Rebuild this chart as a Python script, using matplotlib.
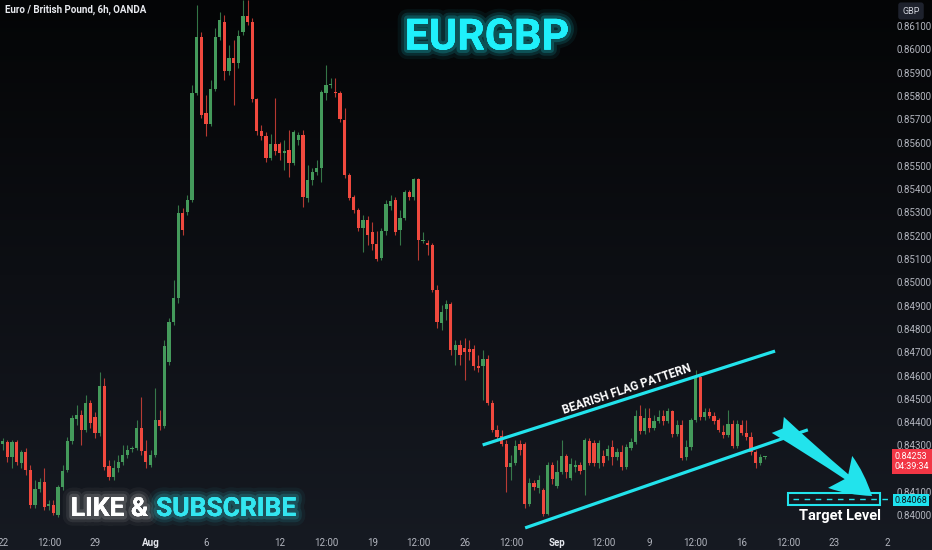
import numpy as np
import matplotlib
matplotlib.use("Agg")
from matplotlib import pyplot as plt
from matplotlib import patheffects as pe
from matplotlib.colors import LinearSegmentedColormap
from matplotlib.patches import Rectangle

plt.rcParams['font.family'] = ['Roboto', 'DejaVu Sans']

# EURGBP 6h candles, 22 Jul -> 17 Sep
opens = [0.84306, 0.84315, 0.84251, 0.84315, 0.84225, 0.84272, 0.84195, 0.84044, 0.84113, 0.84143,
         0.84040, 0.84044, 0.84002, 0.84122, 0.84195, 0.84319, 0.84414, 0.84431, 0.84367, 0.84482,
         0.84422, 0.84354, 0.84555, 0.84212, 0.84165, 0.84203, 0.84229, 0.84259, 0.84285, 0.84289,
         0.84375, 0.84276, 0.84216, 0.84259, 0.84409, 0.84384, 0.84658, 0.84830, 0.84933, 0.85298,
         0.85302, 0.85354, 0.85813, 0.86053, 0.85727, 0.85680, 0.85830, 0.86053, 0.86118, 0.85907,
         0.85963, 0.85942, 0.86075, 0.86143, 0.86118, 0.85787, 0.85650, 0.85628, 0.85534, 0.85594,
         0.85594, 0.85555, 0.85568, 0.85512, 0.85611, 0.85633, 0.85362, 0.85439, 0.85474, 0.85491,
         0.85813, 0.85849, 0.85815, 0.85813, 0.85697, 0.85461, 0.85367, 0.85311, 0.85233, 0.85268,
         0.85216, 0.85165, 0.85105, 0.85221, 0.85328, 0.85354, 0.85225, 0.85276, 0.85388, 0.85367,
         0.85444, 0.85178, 0.85169, 0.85160, 0.84967, 0.84826, 0.84886, 0.84907, 0.84710, 0.84731,
         0.84718, 0.84714, 0.84714, 0.84641, 0.84641, 0.84671, 0.84482, 0.84367, 0.84341, 0.84306,
         0.84208, 0.84225, 0.84306, 0.84306, 0.84049, 0.84139, 0.84118, 0.84109, 0.84006, 0.84216,
         0.84126, 0.84186, 0.84255, 0.84160, 0.84208, 0.84216, 0.84195, 0.84319, 0.84311, 0.84225,
         0.84255, 0.84255, 0.84294, 0.84251, 0.84272, 0.84208, 0.84289, 0.84315, 0.84427, 0.84362,
         0.84418, 0.84375, 0.84405, 0.84427, 0.84405, 0.84448, 0.84349, 0.84388, 0.84251, 0.84294,
         0.84409, 0.84594, 0.84422, 0.84444, 0.84427, 0.84409, 0.84358, 0.84345, 0.84392, 0.84298,
         0.84388, 0.84354, 0.84337, 0.84272, 0.84225, 0.84250]
closes = [0.84319, 0.84251, 0.84315, 0.84229, 0.84272, 0.84195, 0.84044, 0.84113, 0.84143, 0.84036,
          0.84049, 0.84010, 0.84122, 0.84190, 0.84319, 0.84418, 0.84431, 0.84367, 0.84482, 0.84396,
          0.84354, 0.84555, 0.84208, 0.84165, 0.84203, 0.84229, 0.84259, 0.84281, 0.84289, 0.84375,
          0.84276, 0.84229, 0.84259, 0.84409, 0.84384, 0.84727, 0.84830, 0.84933, 0.85298, 0.85225,
          0.85354, 0.85813, 0.86053, 0.85718, 0.85680, 0.85830, 0.86053, 0.86126, 0.85907, 0.85963,
          0.85942, 0.86057, 0.86143, 0.86118, 0.85787, 0.85650, 0.85628, 0.85534, 0.85594, 0.85564,
          0.85555, 0.85564, 0.85512, 0.85645, 0.85633, 0.85367, 0.85439, 0.85474, 0.85491, 0.85817,
          0.85847, 0.85853, 0.85811, 0.85701, 0.85461, 0.85362, 0.85311, 0.85233, 0.85268, 0.85203,
          0.85165, 0.85100, 0.85221, 0.85336, 0.85349, 0.85216, 0.85276, 0.85388, 0.85367, 0.85444,
          0.85182, 0.85182, 0.85160, 0.84967, 0.84830, 0.84873, 0.84907, 0.84710, 0.84731, 0.84688,
          0.84701, 0.84701, 0.84641, 0.84633, 0.84671, 0.84482, 0.84367, 0.84337, 0.84306, 0.84208,
          0.84225, 0.84298, 0.84281, 0.84049, 0.84139, 0.84122, 0.84152, 0.84006, 0.84216, 0.84156,
          0.84186, 0.84255, 0.84186, 0.84221, 0.84216, 0.84190, 0.84324, 0.84225, 0.84225, 0.84311,
          0.84225, 0.84285, 0.84251, 0.84272, 0.84208, 0.84294, 0.84315, 0.84427, 0.84362, 0.84418,
          0.84375, 0.84405, 0.84422, 0.84405, 0.84448, 0.84349, 0.84388, 0.84246, 0.84294, 0.84409,
          0.84594, 0.84422, 0.84444, 0.84427, 0.84405, 0.84367, 0.84345, 0.84392, 0.84298, 0.84392,
          0.84354, 0.84337, 0.84272, 0.84225, 0.84251, 0.84253]
highs = [0.84332, 0.84324, 0.84324, 0.84324, 0.84281, 0.84289, 0.84216, 0.84152, 0.84160, 0.84203,
         0.84066, 0.84066, 0.84130, 0.84216, 0.84337, 0.84431, 0.84474, 0.84452, 0.84517, 0.84495,
         0.84444, 0.84615, 0.84590, 0.84238, 0.84238, 0.84259, 0.84302, 0.84302, 0.84298, 0.84409,
         0.84508, 0.84324, 0.84281, 0.84547, 0.84452, 0.84753, 0.84847, 0.85010, 0.85332, 0.85319,
         0.85375, 0.85847, 0.86191, 0.86075, 0.85804, 0.85869, 0.86092, 0.86160, 0.86148, 0.86019,
         0.86040, 0.86083, 0.86212, 0.86212, 0.86135, 0.85791, 0.85676, 0.85645, 0.85637, 0.85791,
         0.85603, 0.85611, 0.85654, 0.85654, 0.85645, 0.85654, 0.85504, 0.85491, 0.85525, 0.85826,
         0.85933, 0.85877, 0.85877, 0.85821, 0.85748, 0.85470, 0.85375, 0.85319, 0.85289, 0.85285,
         0.85259, 0.85221, 0.85233, 0.85354, 0.85375, 0.85367, 0.85311, 0.85397, 0.85397, 0.85448,
         0.85448, 0.85216, 0.85182, 0.85169, 0.84989, 0.84903, 0.84926, 0.84916, 0.84753, 0.84753,
         0.84761, 0.84753, 0.84731, 0.84688, 0.84710, 0.84688, 0.84495, 0.84388, 0.84367, 0.84324,
         0.84259, 0.84324, 0.84324, 0.84315, 0.84160, 0.84152, 0.84173, 0.84118, 0.84229, 0.84229,
         0.84238, 0.84324, 0.84263, 0.84246, 0.84238, 0.84229, 0.84332, 0.84332, 0.84324, 0.84324,
         0.84281, 0.84302, 0.84324, 0.84289, 0.84302, 0.84306, 0.84332, 0.84452, 0.84474, 0.84461,
         0.84461, 0.84431, 0.84452, 0.84452, 0.84461, 0.84452, 0.84409, 0.84409, 0.84324, 0.84418,
         0.84624, 0.84603, 0.84461, 0.84461, 0.84444, 0.84418, 0.84388, 0.84452, 0.84409, 0.84409,
         0.84409, 0.84409, 0.84358, 0.84281, 0.84263, 0.84255]
lows = [0.84281, 0.84229, 0.84203, 0.84216, 0.84203, 0.84173, 0.84032, 0.84032, 0.84100, 0.84023,
        0.84023, 0.84002, 0.83993, 0.84109, 0.84186, 0.84306, 0.84388, 0.84302, 0.84358, 0.84375,
        0.84332, 0.84341, 0.84195, 0.84152, 0.84152, 0.84186, 0.84216, 0.84246, 0.84272, 0.84281,
        0.84259, 0.84203, 0.84208, 0.84251, 0.84367, 0.84375, 0.84645, 0.84817, 0.84912, 0.85203,
        0.85289, 0.85345, 0.85804, 0.85706, 0.85628, 0.85671, 0.85821, 0.86040, 0.85869, 0.85890,
        0.85761, 0.85920, 0.86062, 0.86105, 0.85774, 0.85633, 0.85611, 0.85517, 0.85525, 0.85547,
        0.85525, 0.85482, 0.85452, 0.85504, 0.85590, 0.85324, 0.85345, 0.85418, 0.85461, 0.85431,
        0.85783, 0.85834, 0.85796, 0.85688, 0.85448, 0.85354, 0.85298, 0.85221, 0.85130, 0.85160,
        0.85139, 0.85092, 0.85096, 0.85203, 0.85311, 0.85203, 0.85160, 0.85268, 0.85354, 0.85354,
        0.85096, 0.85169, 0.85118, 0.84959, 0.84804, 0.84796, 0.84839, 0.84688, 0.84645, 0.84645,
        0.84581, 0.84667, 0.84624, 0.84615, 0.84495, 0.84474, 0.84358, 0.84324, 0.84298, 0.84100,
        0.84152, 0.84216, 0.84259, 0.84032, 0.84040, 0.84109, 0.84096, 0.83997, 0.84002, 0.84135,
        0.84118, 0.84178, 0.84160, 0.84152, 0.84186, 0.84178, 0.84087, 0.84216, 0.84212, 0.84203,
        0.84212, 0.84238, 0.84216, 0.84238, 0.84195, 0.84199, 0.84281, 0.84306, 0.84349, 0.84349,
        0.84358, 0.84367, 0.84396, 0.84388, 0.84396, 0.84337, 0.84341, 0.84238, 0.84238, 0.84281,
        0.84401, 0.84409, 0.84409, 0.84418, 0.84392, 0.84358, 0.84332, 0.84337, 0.84289, 0.84289,
        0.84345, 0.84324, 0.84259, 0.84203, 0.84216, 0.84242]

date_ticks = [0, 10, 20, 32, 44, 60, 70, 80, 90, 100, 110, 120, 130, 140, 150, 160, 170, 180, 191.6]
date_labels = ["22", "12:00", "29", "Aug", "6", "12", "12:00", "19", "12:00", "26",
               "12:00", "Sep", "12:00", "9", "12:00", "16", "12:00", "23", "2"]
# 0.84200 sits under the live price label, so it is not shown
price_ticks = [0.840, 0.841, 0.843, 0.844, 0.845, 0.846, 0.847, 0.848, 0.849, 0.850,
               0.851, 0.852, 0.853, 0.854, 0.855, 0.856, 0.857, 0.858, 0.859, 0.860, 0.861]

last_price = 0.84253
target = 0.84068

GREEN = "#449a5b"
RED = "#f0493e"
CYAN = "#22e3ec"
W, H = 932, 550

fig = plt.figure(figsize=(W / 100, H / 100), dpi=100)

# dark gradient background like the TradingView dark theme
bg = fig.add_axes([0, 0, 1, 1], zorder=-10)
grad = np.linspace(0, 1, 256).reshape(-1, 1)
bg.imshow(grad, aspect="auto", extent=[0, 1, 0, 1],
          cmap=LinearSegmentedColormap.from_list("bg", ["#040506", "#0d0f14", "#161a22"]))
bg.axis("off")

ax = fig.add_axes([0, 20 / H, 891 / W, 530 / H])
ax.set_facecolor("none")

x = np.arange(len(opens))
o = np.array(opens)
c = np.array(closes)
colors = np.where(c >= o, GREEN, RED)
ax.vlines(x, lows, highs, colors=colors, linewidth=0.8, alpha=0.75, zorder=2)
body = np.maximum(np.abs(c - o), 0.000025)
ax.bar(x, body, bottom=np.minimum(o, c), width=0.7, color=colors, linewidth=0, zorder=3)

ax.set_xlim(-0.58, 192.3)
ax.set_ylim(0.83937, 0.86212)

ax.yaxis.tick_right()
ax.set_yticks(price_ticks)
ax.set_yticklabels([f"{p:.5f}" for p in price_ticks])
ax.set_xticks(date_ticks)
ax.set_xticklabels(date_labels)
ax.tick_params(axis="y", length=0, pad=4, labelsize=7, labelcolor="#b2b5be")
ax.tick_params(axis="x", length=0, pad=6, labelsize=7, labelcolor="#b2b5be")
for lbl in ax.get_xticklabels():
    if lbl.get_text() in ("Aug", "Sep"):
        lbl.set_fontweight("bold")
        lbl.set_color("#e6e8ee")
for s in ax.spines.values():
    s.set_visible(False)

# flag channel
ax.plot([103.9, 167.2], [0.84302, 0.84705], color=CYAN, linewidth=2.3, zorder=4, solid_capstyle="butt")
ax.plot([113.1, 174.3], [0.83946, 0.84367], color=CYAN, linewidth=2.3, zorder=4, solid_capstyle="butt")
ax.text(135.1, 0.84542, "BEARISH FLAG PATTERN", color="white", fontsize=8.5, fontweight="bold",
        rotation=18.5, ha="center", va="center", rotation_mode="anchor", zorder=5)

# arrow towards target
ax.annotate("", xy=(188.2, 0.84083), xytext=(167.8, 0.84388),
            arrowprops=dict(arrowstyle="fancy,head_length=1.2,head_width=1.2,tail_width=0.6",
                            color=CYAN, mutation_scale=24, linewidth=0, shrinkA=0, shrinkB=0),
            zorder=5)

# target level box
ax.add_patch(Rectangle((170.0, 0.84045), 19.9, 0.0005, fill=False, edgecolor=CYAN, linewidth=1.5, zorder=5))
ax.plot([171, 192.3], [target, target], color=CYAN, linewidth=1, linestyle=(0, (4, 4)), zorder=5)
ax.text(181.2, 0.83996, "Target Level", color="white", fontsize=10.5, fontweight="bold",
        ha="center", va="center", zorder=5)

# price scale labels
yt = ax.get_yaxis_transform()
ax.text(1.004, last_price - 0.00022, "0.84253\n04:39:34", transform=yt, color="white", fontsize=6.5,
        ha="left", va="center", linespacing=1.25, clip_on=False, zorder=6,
        bbox=dict(boxstyle="square,pad=0.3", facecolor="#f23645", edgecolor="none"))
ax.text(1.004, target - 0.00003, "0.84068", transform=yt, color="#0b1a20", fontsize=6.5,
        ha="left", va="center", clip_on=False, zorder=6,
        bbox=dict(boxstyle="square,pad=0.2", facecolor="#1ee3f0", edgecolor="none"))

fig.text(911 / W, 1 - 11 / H, "GBP", color="#d1d4dc", fontsize=6.5, ha="center", va="center",
         bbox=dict(boxstyle="round,pad=0.45,rounding_size=0.3", facecolor="#1e222d", edgecolor="none"))

fig.text(5 / W, 1 - 10 / H, "Euro / British Pound, 6h, OANDA", color="#e8eaef", fontsize=7,
         fontweight="bold", ha="left", va="center")


def glow(col, base_alpha=0.12):
    fx = [pe.withStroke(linewidth=w, foreground=col, alpha=base_alpha * k)
          for w, k in ((14, 0.5), (9, 1.0), (5, 1.6))]
    fx.append(pe.Normal())
    return fx


fig.text(487 / W, 1 - 38 / H, "EURGBP", color="#1ff0fb", fontsize=31, fontweight="bold",
         ha="center", va="center", path_effects=glow("#1ff0fb"))
fig.text(148 / W, 1 - 509 / H, "LIKE &", color="white", fontsize=19, fontweight="bold",
         ha="right", va="center", path_effects=glow("#ffffff", 0.08))
fig.text(156 / W, 1 - 509 / H, "SUBSCRIBE", color="#33e6f0", fontsize=19, fontweight="bold",
         ha="left", va="center", path_effects=glow("#33e6f0", 0.1))

fig.savefig("out.png", dpi=100)
